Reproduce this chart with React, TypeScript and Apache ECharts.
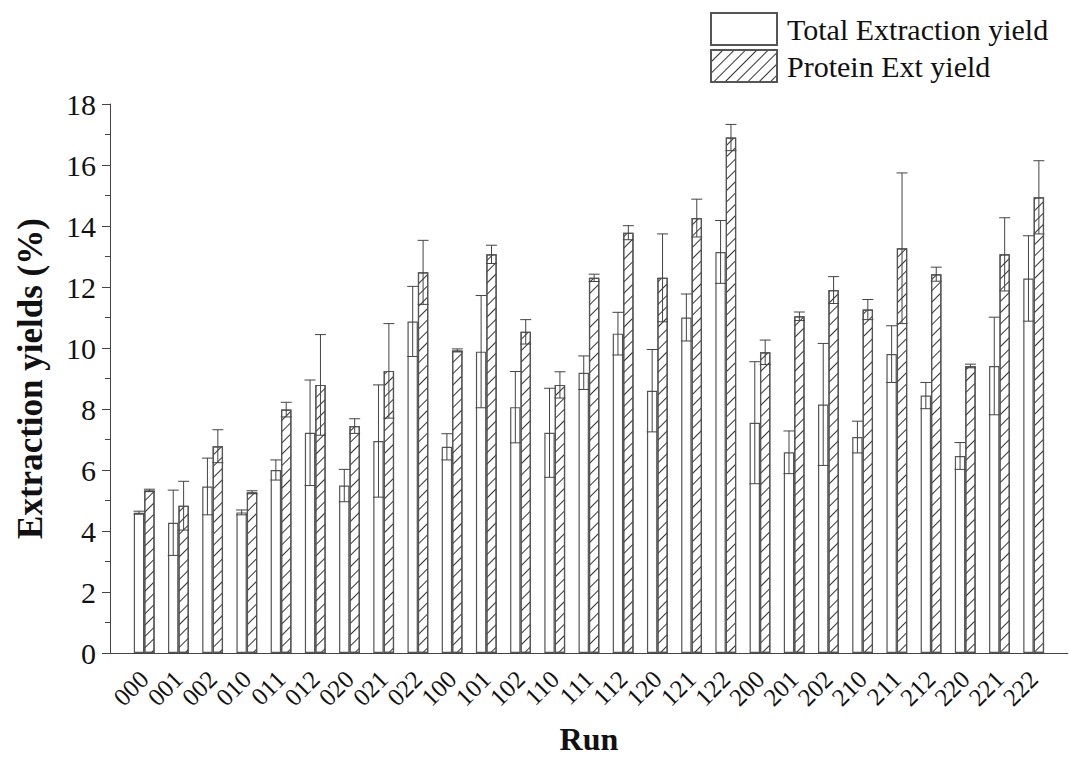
import React, { useEffect, useRef } from "react";
import * as echarts from "echarts";

const runs = ["000","001","002","010","011","012","020","021","022","100","101","102","110","111","112","120","121","122","200","201","202","210","211","212","220","221","222"];
const totalYield = [4.6, 4.27, 5.46, 4.61, 6.0, 7.22, 5.49, 6.95, 10.87, 6.76, 9.88, 8.06, 7.22, 9.19, 10.47, 8.6, 11.0, 13.15, 7.55, 6.58, 8.15, 7.08, 9.8, 8.44, 6.46, 9.41, 12.28];
const totalErr = [0.05, 1.07, 0.93, 0.08, 0.33, 1.73, 0.53, 1.84, 1.15, 0.43, 1.84, 1.17, 1.46, 0.55, 0.7, 1.35, 0.77, 1.03, 2.0, 0.7, 2.0, 0.52, 0.93, 0.43, 0.44, 1.6, 1.4];
const proteinYield = [5.33, 4.83, 6.78, 5.27, 7.98, 8.79, 7.44, 9.25, 12.48, 9.92, 13.07, 10.53, 8.79, 12.3, 13.78, 12.3, 14.26, 16.9, 9.86, 11.04, 11.9, 11.26, 13.27, 12.42, 9.41, 13.07, 14.94];
const proteinErr = [0.04, 0.8, 0.54, 0.05, 0.24, 1.65, 0.24, 1.55, 1.05, 0.05, 0.3, 0.4, 0.43, 0.12, 0.23, 1.44, 0.62, 0.43, 0.4, 0.14, 0.44, 0.33, 2.47, 0.23, 0.06, 1.2, 1.2];
const yTicks = { min: 0, max: 18, interval: 2 };

const FONT = "'Liberation Serif', 'Times New Roman', serif";
const BAR_W = 10.4;
const EDGE = "#555";

export default function App() {
  const ref = useRef<HTMLDivElement>(null);
  useEffect(() => {
    if (!ref.current) return;
    const chart = echarts.init(ref.current, undefined, { renderer: "svg" });
    // pad categories with an empty slot on each side so the axis starts one step before the first run
    const cats = ["", ...runs, ""];
    const pad = (arr: number[]) => ["-", ...arr, "-"];
    const errData = (vals: number[], errs: number[]) => vals.map((v, i) => [i + 1, v, errs[i]]);

    const errorRender = (offset: number) => (params: any, api: any) => {
      const x = api.value(0);
      const v = api.value(1);
      const e = api.value(2);
      const hi = api.coord([x, v + e]);
      const lo = api.coord([x, v - e]);
      const cx = hi[0] + offset;
      const hw = 5.5;
      const style = { stroke: "#444", lineWidth: 1 };
      return {
        type: "group",
        children: [
          { type: "line", shape: { x1: cx, y1: hi[1], x2: cx, y2: lo[1] }, style },
          { type: "line", shape: { x1: cx - hw, y1: hi[1], x2: cx + hw, y2: hi[1] }, style },
          { type: "line", shape: { x1: cx - hw, y1: lo[1], x2: cx + hw, y2: lo[1] }, style },
        ],
      };
    };

    chart.setOption({
      animation: false,
      backgroundColor: "#fff",
      legend: {
        orient: "vertical",
        left: 710,
        top: 12,
        padding: 0,
        itemWidth: 66,
        itemHeight: 32,
        itemGap: 3,
        icon: "rect",
        data: ["Total Extraction yield", "Protein Ext yield"],
        textStyle: { fontFamily: FONT, fontSize: 30, color: "#111", padding: [0, 0, 0, 5] },
      },
      grid: { left: 110, right: -16.6, top: 104, bottom: 102 },
      xAxis: {
        type: "category",
        data: cats,
        boundaryGap: false,
        name: "Run",
        nameLocation: "middle",
        nameGap: 70,
        nameTextStyle: { fontFamily: FONT, fontSize: 32, fontWeight: "bold", color: "#111" },
        axisLine: { lineStyle: { color: "#444", width: 1 } },
        axisTick: { show: false },
        axisLabel: { interval: 0, rotate: 45, margin: 22, fontFamily: FONT, fontSize: 25, color: "#111" },
        splitLine: { show: false },
      },
      yAxis: {
        type: "value",
        min: yTicks.min,
        max: yTicks.max,
        interval: yTicks.interval,
        name: "Extraction yields (%)",
        nameLocation: "middle",
        nameGap: 62,
        nameTextStyle: { fontFamily: FONT, fontSize: 35, fontWeight: "bold", color: "#111" },
        axisLine: { show: true, lineStyle: { color: "#444", width: 1 } },
        axisTick: { show: true, length: 8, lineStyle: { color: "#444" } },
        minorTick: { show: true, splitNumber: 2, length: 5, lineStyle: { color: "#444" } },
        axisLabel: { margin: 14, fontFamily: FONT, fontSize: 30, color: "#111" },
        splitLine: { show: false },
      },
      series: [
        {
          name: "Total Extraction yield",
          type: "bar",
          data: pad(totalYield),
          barWidth: BAR_W,
          barGap: "0%",
          itemStyle: { color: "#fff", borderColor: EDGE, borderWidth: 1.2 },
        },
        {
          name: "Protein Ext yield",
          type: "bar",
          data: pad(proteinYield),
          barWidth: BAR_W,
          barGap: "0%",
          itemStyle: {
            color: "#fff",
            borderColor: EDGE,
            borderWidth: 1.2,
            decal: {
              symbol: "rect",
              symbolSize: 1,
              color: "#333",
              backgroundColor: "#fff",
              dashArrayX: [1, 0],
              dashArrayY: [1, 6.5],
              rotation: -Math.PI / 4,
            },
          },
        },
        {
          type: "custom",
          data: errData(totalYield, totalErr),
          renderItem: errorRender(-BAR_W / 2),
          z: 5,
          silent: true,
          encode: { x: 0, y: 1 },
        },
        {
          type: "custom",
          data: errData(proteinYield, proteinErr),
          renderItem: errorRender(BAR_W / 2),
          z: 5,
          silent: true,
          encode: { x: 0, y: 1 },
        },
      ],
    });
    return () => chart.dispose();
  }, []);
  return <div ref={ref} style={{ position: "absolute", left: 0, top: 0, width: 1070, height: 760 }} />;
}
